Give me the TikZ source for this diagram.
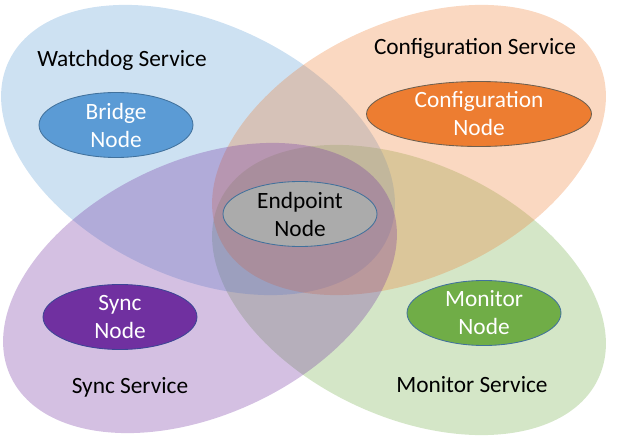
\documentclass[tikz,border=0pt]{standalone}
\usepackage{fontspec}
\setmainfont{Carlito}
\usepackage{tikz}
\usetikzlibrary{shapes.geometric,positioning}
\definecolor{accblue}{HTML}{5B9BD5}
\definecolor{accorange}{HTML}{ED7D31}
\definecolor{accpurple}{HTML}{7030A0}
\definecolor{accgreen}{HTML}{70AD47}
\definecolor{accgrey}{HTML}{ABABAB}
\definecolor{edgeblue}{HTML}{41719C}
\definecolor{edgebrown}{HTML}{6E6050}
\definecolor{edgeviolet}{HTML}{3C4595}

\begin{document}
\begin{tikzpicture}[x=0.25mm,y=0.25mm]

\tikzset{service/.style={shape=ellipse,draw=none,fill opacity=0.3,inner sep=0pt,minimum width=418*0.25mm,minimum height=254*0.25mm},
servicelabel/.style={font=\fontsize{16.6}{20}\selectfont,text=black,inner sep=0pt},
innernode/.style={shape=ellipse,font=\fontsize{16.6}{19.9}\selectfont,align=center,text=white,inner sep=0pt,line width=0.6pt,minimum width=154*0.25mm,minimum height=65*0.25mm}}

\useasboundingbox (0,0) rectangle (620,444);

% Service areas (green at the back, purple in front)
\node[service,fill=accgreen,rotate=-25] (monitor) at (409,154) {};
\node[service,fill=accblue,rotate=-25] (watchdog) at (198,294) {};
\node[service,fill=accorange,rotate=25] (config) at (409,294) {};
\node[service,fill=accpurple,rotate=25] (sync) at (200,156) {};

% Service labels
\node[servicelabel] (watchdogLabel) at (122,384) {Watchdog Service};
\node[servicelabel] (configLabel) at (475,396) {Configuration Service};
\node[servicelabel] (syncLabel) at (130,57) {Sync Service};
\node[servicelabel] (monitorLabel) at (472,59) {Monitor Service};

% Nodes
\node[innernode,fill=accblue,draw=edgeblue] (bridge) at (116,319) {Bridge\\Node};
\node[innernode,fill=accorange,draw=edgebrown,minimum width=225*0.25mm] (configNode) at (479,330) {Configuration\\Node};
\node[innernode,fill=accgrey,draw=edgeblue,text=black] (endpoint) at (300,230) {Endpoint\\Node};
\node[innernode,fill=accpurple,draw=edgeviolet] (syncNode) at (120,127) {Sync\\Node};
\node[innernode,fill=accgreen,draw=edgeblue] (monitorNode) at (484,131) {Monitor\\Node};

\end{tikzpicture}
\end{document}
